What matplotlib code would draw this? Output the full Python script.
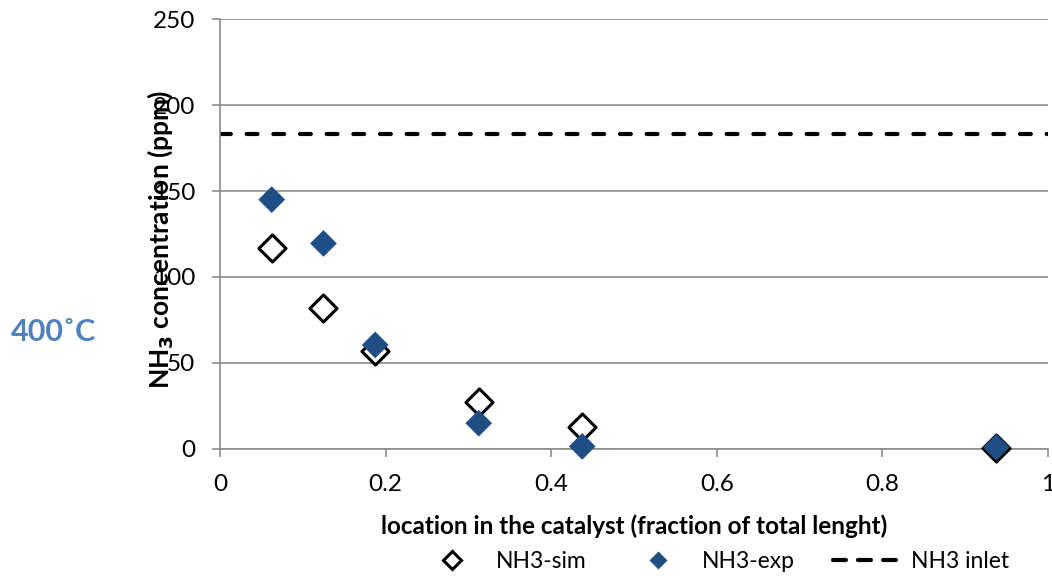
import numpy as np
import matplotlib.pyplot as plt
from matplotlib.lines import Line2D

plt.rcParams['font.family'] = ['Lato', 'DejaVu Sans']

# posiciones a lo largo del catalizador (fraccion del largo)
loc_sim = [0.0625, 0.125, 0.1875, 0.3125, 0.4375, 0.9375]
nh3_sim = [117, 82, 57, 27.5, 13, 0.5]
loc_exp = [0.0625, 0.125, 0.1875, 0.3125, 0.4375, 0.9375]
nh3_exp = [145, 119.5, 60.5, 15, 1.5, 1]
nh3_inlet = 183
xticks = [0, 0.2, 0.4, 0.6, 0.8, 1]
yticks = [0, 50, 100, 150, 200, 250]

azul = '#1F4E85'
grid_col = '#8C8C8C'

fig = plt.figure(figsize=(10.52, 5.76), dpi=100)
ax = fig.add_axes([0.2091, 0.2205, 0.7871, 0.7465])

ax.set_xlim(0, 1)
ax.set_ylim(0, 250)
ax.set_xticks(xticks)
ax.set_xticklabels(['0', '0.2', '0.4', '0.6', '0.8', '1'])
ax.set_yticks(yticks)
ax.yaxis.grid(True, color=grid_col, lw=1.2)
ax.set_axisbelow(True)
for s in ['top', 'right']:
    ax.spines[s].set_visible(False)
for s in ['left', 'bottom']:
    ax.spines[s].set_color(grid_col)
    ax.spines[s].set_linewidth(1.2)
ax.tick_params(direction='out', length=6, width=1.2, color=grid_col,
               labelsize=17.5, labelcolor='black')
ax.tick_params(axis='y', pad=12)
ax.tick_params(axis='x', pad=12)

# linea de entrada
ax.axhline(nh3_inlet, color='black', lw=3, ls=(0, (2.6, 3.8)),
           dash_capstyle='round')

# exp encima de sim
ax.scatter(loc_sim, nh3_sim, marker='D', s=190, facecolors='white',
           edgecolors='black', linewidths=2.2, zorder=3, clip_on=False)
ax.scatter(loc_exp, nh3_exp, marker='D', s=185, color=azul,
           edgecolors='none', zorder=4, clip_on=False)

ax.set_xlabel('location in the catalyst (fraction of total lenght)',
              fontsize=17.5, fontweight='bold', labelpad=14)
fig.text(0.152, 0.584, r'NH$_\mathbf{3}$ concentration (ppm)', rotation=90,
         fontsize=19, fontweight='bold', ha='center', va='center')
fig.text(0.051, 0.423, '400\u02daC', color='#4F81BD', fontsize=22,
         fontweight='bold', ha='center', va='center')

handles = [
    Line2D([], [], ls='none', marker='D', ms=9, mfc='white', mec='black', mew=2.2),
    Line2D([], [], ls='none', marker='D', ms=9.5, mfc=azul, mec='none'),
    Line2D([], [], color='black', lw=3, ls=(0, (3.1, 2.9)), dash_capstyle='round'),
]
fig.legend(handles, ['NH3-sim', 'NH3-exp', 'NH3 inlet'], loc='center',
           bbox_to_anchor=(0.678, 0.026), ncol=3, frameon=False, fontsize=16.5,
           handlelength=3.0, columnspacing=1.65, handletextpad=0.4)

fig.savefig('out.png', dpi=100)
